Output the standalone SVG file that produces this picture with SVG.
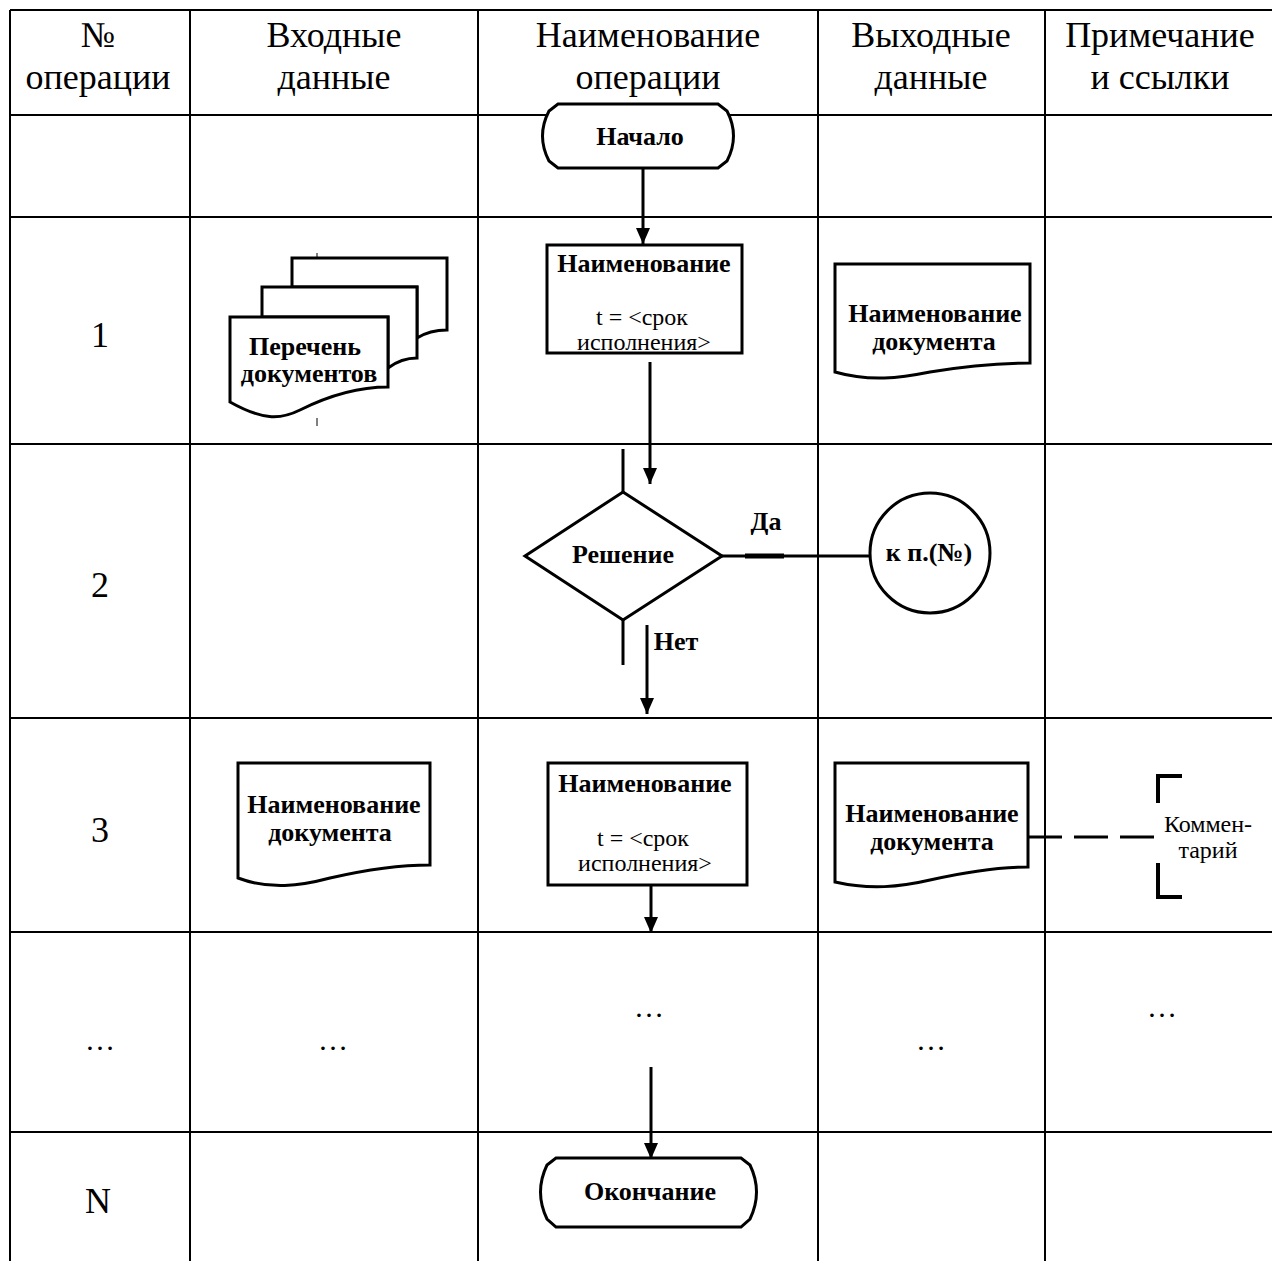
<svg xmlns="http://www.w3.org/2000/svg" width="1272" height="1261" viewBox="0 0 1272 1261">
<defs>
<style>
.grid{stroke:#000;stroke-width:2;fill:none}
.hdr{font-family:"Liberation Serif",serif;font-size:36px;fill:#000;text-anchor:middle}
.num{font-family:"Liberation Serif",serif;font-size:36px;fill:#000;text-anchor:middle}
.dots{font-family:"Liberation Serif",serif;font-size:30px;fill:#000;text-anchor:middle}
.b{font-family:"Liberation Serif",serif;font-size:26px;font-weight:bold;fill:#000;text-anchor:middle}
.r{font-family:"Liberation Serif",serif;font-size:24px;fill:#000;text-anchor:middle}
.shape{fill:#fff;stroke:#000;stroke-width:3}
.line{stroke:#000;stroke-width:3;fill:none}
</style>
<marker id="ah" viewBox="0 0 16 14" refX="16" refY="7" markerWidth="16" markerHeight="14" markerUnits="userSpaceOnUse" orient="auto">
<path d="M0,0 L16,7 L0,14 Z" fill="#000"/>
</marker>
</defs>
<rect width="1272" height="1261" fill="#fff"/>
<g id="table">
<line class="grid" x1="10" y1="10" x2="1272" y2="10"/>
<line class="grid" x1="10" y1="115" x2="1272" y2="115"/>
<line class="grid" x1="10" y1="217" x2="1272" y2="217"/>
<line class="grid" x1="10" y1="444" x2="1272" y2="444"/>
<line class="grid" x1="10" y1="718" x2="1272" y2="718"/>
<line class="grid" x1="10" y1="932" x2="1272" y2="932"/>
<line class="grid" x1="10" y1="1132" x2="1272" y2="1132" stroke-width="3"/>
<line class="grid" x1="10" y1="10" x2="10" y2="1261"/>
<line class="grid" x1="190" y1="10" x2="190" y2="1261"/>
<line class="grid" x1="478" y1="10" x2="478" y2="1261"/>
<line class="grid" x1="818" y1="10" x2="818" y2="1261"/>
<line class="grid" x1="1045" y1="10" x2="1045" y2="1261"/>
<text class="hdr" x="98" y="47">№</text>
<text class="hdr" x="98" y="89">операции</text>
<text class="hdr" x="334" y="47">Входные</text>
<text class="hdr" x="334" y="89">данные</text>
<text class="hdr" x="648" y="47">Наименование</text>
<text class="hdr" x="648" y="89">операции</text>
<text class="hdr" x="931" y="47">Выходные</text>
<text class="hdr" x="931" y="89">данные</text>
<text class="hdr" x="1160" y="47">Примечание</text>
<text class="hdr" x="1160" y="89">и ссылки</text>
<text class="num" x="100" y="347">1</text>
<text class="num" x="100" y="597">2</text>
<text class="num" x="100" y="842">3</text>
<text class="dots" x="100" y="1050">…</text>
<text class="dots" x="333" y="1050">…</text>
<text class="dots" x="649" y="1017">…</text>
<text class="dots" x="931" y="1050">…</text>
<text class="dots" x="1162" y="1017">…</text>
<text class="num" x="98" y="1213">N</text>
</g>
<g id="connectors">
<line class="line" x1="643" y1="168" x2="643" y2="244" marker-end="url(#ah)"/>
<line class="line" x1="650" y1="362" x2="650" y2="484" marker-end="url(#ah)"/>
<line class="line" x1="623" y1="449" x2="623" y2="492"/>
<line class="line" x1="623" y1="620" x2="623" y2="665"/>
<line class="line" x1="647" y1="625" x2="647" y2="714" marker-end="url(#ah)"/>
<line class="line" x1="722" y1="556" x2="870" y2="556"/>
<line x1="745" y1="556" x2="784" y2="556" stroke="#000" stroke-width="5"/>
<line class="line" x1="651" y1="845" x2="651" y2="933" marker-end="url(#ah)"/>
<line class="line" x1="1028" y1="837" x2="1155" y2="837" stroke-dasharray="34 12"/>
<line class="line" x1="651" y1="1067" x2="651" y2="1159" marker-end="url(#ah)"/>
<text class="b" x="766" y="530">Да</text>
<text class="b" x="676" y="650">Нет</text>
</g>
<g id="start">
<path class="shape" d="M558,104 H718 L727,111 Q740,136 727,161 L718,168 H558 L549,161 Q536,136 549,111 Z"/>
<text class="b" x="640" y="145">Начало</text>
</g>
<g id="input-docs">
<path class="shape" d="M292,258 H447 V330 C435,330 425,333 417,338 V287 H292 Z"/>
<path class="shape" d="M262,287 H417 V358 C405,358 396,362 388,368 V317 H262 Z"/>
<path class="shape" d="M230,317 H388 V387 C360,387 330,395 300,410 C280,420 262,420 230,402 Z"/>
<line x1="317" y1="253" x2="317" y2="258" stroke="#000" stroke-width="1"/>
<line x1="317" y1="418" x2="317" y2="426" stroke="#000" stroke-width="1"/>
<text class="b" x="305" y="355" font-size="25">Перечень</text>
<text class="b" x="309" y="382" font-size="25">документов</text>
</g>
<g id="process-1">
<rect class="shape" x="547" y="245" width="195" height="108"/>
<text class="b" x="644" y="272" font-size="25">Наименование</text>
<text class="r" x="642" y="325">t = &lt;срок</text>
<text class="r" x="644" y="350">исполнения&gt;</text>
</g>
<g id="output-doc-1">
<path class="shape" d="M835,264 H1030 V363 C1000,363 965,366 930,372 C900,378 870,382 835,372 Z"/>
<text class="b" x="935" y="322">Наименование</text>
<text class="b" x="934" y="350">документа</text>
</g>
<g id="decision">
<path class="shape" d="M623,492 L722,556 L623,620 L525,556 Z"/>
<text class="b" x="623" y="563">Решение</text>
</g>
<g id="connector-ref">
<circle class="shape" cx="930" cy="553" r="60"/>
<text class="b" x="929" y="561">к п.(№)</text>
</g>
<g id="input-doc-3">
<path class="shape" d="M238,763 H430 V865 C400,865 365,870 330,878 C300,886 270,890 238,878 Z"/>
<text class="b" x="334" y="813">Наименование</text>
<text class="b" x="330" y="841">документа</text>
</g>
<g id="process-3">
<rect class="shape" x="548" y="763" width="199" height="122"/>
<text class="b" x="645" y="792" font-size="25">Наименование</text>
<text class="r" x="643" y="846">t = &lt;срок</text>
<text class="r" x="645" y="871">исполнения&gt;</text>
</g>
<g id="output-doc-3">
<path class="shape" d="M835,763 H1028 V867 C998,867 965,872 930,880 C900,887 870,890 835,882 Z"/>
<text class="b" x="932" y="822">Наименование</text>
<text class="b" x="932" y="850">документа</text>
</g>
<g id="comment">
<path d="M1182,776 H1158 V803 M1158,863 V897 H1182" stroke="#000" stroke-width="4" fill="none"/>
<text class="r" x="1208" y="832">Коммен-</text>
<text class="r" x="1208" y="858">тарий</text>
</g>
<g id="end">
<path class="shape" d="M556,1158 H741 L750,1165 Q763,1192 750,1219 L741,1227 H556 L547,1219 Q534,1192 547,1165 Z"/>
<text class="b" x="650" y="1200">Окончание</text>
</g>
</svg>
